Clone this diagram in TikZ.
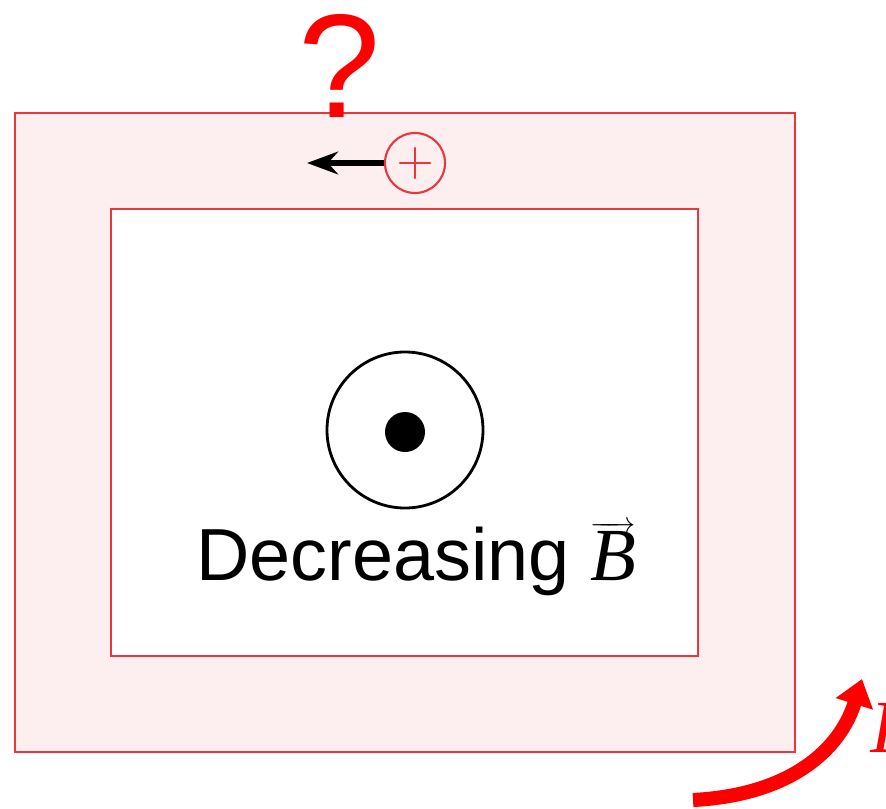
\documentclass[tikz,border=0pt]{standalone}
\usepackage{fontspec}
\setmainfont{Liberation Sans}
\newfontfamily\serifit{Liberation Serif}
\usetikzlibrary{arrows.meta, positioning}
\definecolor{bordo}{HTML}{E8383D}
\definecolor{rosa}{HTML}{FDEFEF}
\definecolor{rosso}{HTML}{FF0000}

\begin{document}
\begin{tikzpicture}[x=0.03cm, y=-0.03cm, >=Stealth, line cap=round,
  lato/.style={draw=bordo, line width=2.4pt},
  carica/.style={circle, draw=bordo, line width=1.8pt, minimum size=1.8cm, inner sep=0pt}]
\useasboundingbox (0,0) rectangle (886,809);

% Spira
\draw[lato, fill=rosa] (15,113) rectangle (795,752);
\draw[lato, fill=white] (111,209) rectangle (698,656);

% Punto interrogativo
\node[text=rosso, font=\fontsize{126}{126}\selectfont, inner sep=0pt] (domanda) at (340,66) {?};

% Carica positiva e velocita
\node[carica] (q) at (415,163) {};
\draw[bordo, line width=2.2pt] (q.center) ++(-15,0) -- ++(30,0) (q.center) ++(0,-15) -- ++(0,30);
\coordinate (sinistra) at (307,163);
\draw[-{Stealth[length=0.93cm, width=0.68cm]}, line width=4.5pt, line cap=butt] (q.west) -- (sinistra);

% Campo uscente
\node[circle, draw, line width=2.4pt, minimum size=4.68cm, inner sep=0pt] (campo) at (405,430) {};
\node[circle, fill, minimum size=1.2cm, inner sep=0pt] (punto) at (405,432) {};

% Etichetta
\node[anchor=base west, inner sep=0pt, font=\fontsize{63}{63}\selectfont] (testo) at (196,580)
  {Decreasing $\overrightarrow{\mbox{\serifit\itshape\fontsize{64}{64}\selectfont B}}$};

% Corrente indotta
\coordinate (inizio) at (693,800);
\coordinate (punta) at (862,679);
\draw[rosso, line width=12pt, line cap=butt, -{Triangle[length=0.78cm, width=1.12cm]}]
  (inizio) .. controls (790,795) and (840,750) .. (punta);
\node[text=rosso, font=\serifit\itshape\fontsize{64}{64}\selectfont, anchor=base west, inner sep=0pt] (corrente) at (870,752) {I};

\end{tikzpicture}
\end{document}
